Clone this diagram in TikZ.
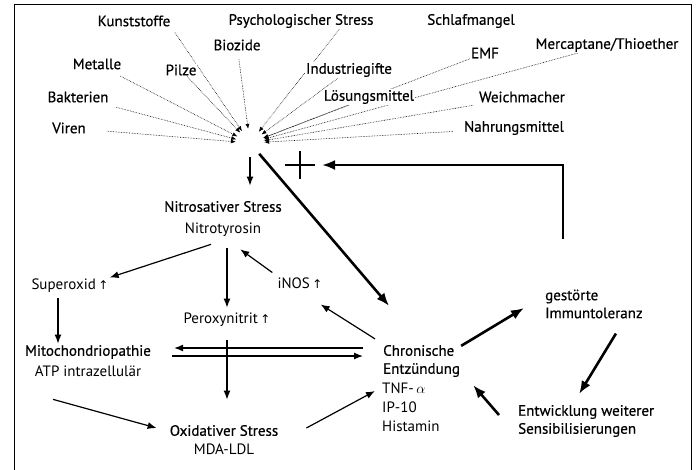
\documentclass[tikz,border=0pt]{standalone}
\usepackage{fontspec}
\setmainfont{PT Sans}
\newfontfamily\semib{PT Sans}[FakeBold=0.5]
\newfontfamily\symb{DejaVu Sans}
\usetikzlibrary{positioning,backgrounds,arrows.meta}

\newcommand{\up}{\,{\symb\fontsize{12}{14}\selectfont ↑}}

\tikzset{
  src/.style={font=\semib\fontsize{15}{17}\selectfont, fill=white, inner sep=1pt},
  head/.style={font=\semib\fontsize{15}{18}\selectfont, inner sep=1pt, text height=11pt, text depth=3.5pt},
  txt/.style={font=\fontsize{15}{19}\selectfont, inner sep=1pt, text height=11pt, text depth=3.5pt},
  arr/.style={-{Latex[length=9pt,width=7pt]}, line width=1.2pt},
  bigarr/.style={-{Latex[length=13pt,width=10pt]}, line width=2.6pt},
  feed/.style={draw, -{Latex[length=5pt,width=4pt]}, densely dotted, line width=0.6pt}
}

\begin{document}
\begin{tikzpicture}[x=1pt, y=-1pt, node distance=5pt]
\useasboundingbox (0,0) rectangle (700,469);
\draw[line width=1pt] (14,475) -- (14,4) -- (691,4) -- (691,475);

% sources
\node[src] (kunst) at (134,21) {Kunststoffe};
\node[src] (psych) at (301,21) {Psychologischer Stress};
\node[src] (schlaf) at (471,21) {Schlafmangel};
\node[src] (biozid) at (237,45) {Biozide};
\node[src] (merc) at (607,45) {Mercaptane/Thioether};
\node[src] (emf) at (485,53) {EMF};
\node[src] (metall) at (97,64) {Metalle};
\node[src] (pilz) at (181,70) {Pilze};
\node[src] (indus) at (349,70) {Industriegifte};
\node[src] (bakt) at (78,97) {Bakterien};
\node[src] (loes) at (369,97) {Lösungsmittel};
\node[src] (weich) at (522,97) {Weichmacher};
\node[src] (viren) at (69,128) {Viren};
\node[src] (nahr) at (514,128) {Nahrungsmittel};

\node[circle, minimum size=28pt, inner sep=0pt] (hub) at (250,143) {};

\begin{scope}[on background layer, every edge/.style={feed}]
  \path (viren) edge[shorten <=20pt] (hub)
        (bakt) edge[shorten <=14pt] (hub)
        (metall) edge[shorten <=12pt] (hub)
        (pilz) edge (hub)
        (kunst.south east) edge[shorten <=6pt] (hub)
        (biozid) edge[shorten <=8pt] (hub)
        (psych.-12) edge (hub)
        (indus) edge (hub)
        (loes) edge (hub)
        (emf) edge (hub)
        (merc) edge (hub)
        (weich) edge[shorten <=10pt] (hub)
        (nahr) edge[shorten <=10pt] (hub);
\end{scope}

% main chain
\node[head] (nitro) at (223,208) {Nitrosativer Stress};
\node[txt, below=of nitro] (nitroty) {Nitrotyrosin};
\node[txt] (superox) at (70,286) {Superoxid\up};
\node[txt] (inos) at (300,285) {iNOS\up};
\node[txt] (perox) at (227,320) {Peroxynitrit\up};
\node[head] (mito) at (88,352) {Mitochondriopathie};
\node[txt, below=4pt of mito] (atp) {ATP intrazellulär};
\node[head] (oxid) at (224,432) {Oxidativer Stress};
\node[txt, below=2pt of oxid] (mda) {MDA-LDL};
\node[head, text height=, text depth=, align=left, anchor=west] (chron) at (382,361) {Chronische\\Entzündung};
\node[txt, text height=, text depth=, align=left, anchor=north west] (tnf) at (381,382) {TNF-\,$\alpha$\\IP-10\\Histamin};
\node[head, text height=, text depth=, align=left, anchor=west] (gest) at (544,304) {gestörte\\Immuntoleranz};
\node[head, text height=, text depth=, align=left, anchor=west] (entw) at (517,421) {Entwicklung weiterer\\Sensibilisierungen};
\coordinate (block) at (300,165);

\draw[arr, shorten >=14pt] (hub.south) -- (hub.south |- nitro.north);
\draw[arr] ([xshift=-12pt,yshift=-6pt]nitroty.south) -- (superox.north east);
\draw[arr, shorten <=10pt, shorten >=4pt] (nitroty.south -| perox) -- (perox.north);
\draw[arr] ([xshift=-4pt,yshift=4pt]inos.north west) -- ([xshift=-22pt,yshift=-11pt]nitroty.south east);
\draw[arr, shorten <=4pt] ([xshift=-12pt]superox.south) -- ([xshift=-30pt]mito.north);
\draw[arr, shorten <=19pt, shorten >=22pt] ([yshift=4pt]mito.east -| chron.west) -- ([yshift=4pt]mito.east);
\draw[arr, shorten <=20pt, shorten >=19pt] ([yshift=-4pt]mito.east) -- ([yshift=-4pt]mito.east -| chron.west);
\draw[arr, shorten <=12pt, shorten >=24pt] (perox.south) -- (perox.south |- oxid.north);
\draw[arr] ([xshift=-35pt,yshift=-18pt]atp.south) -- ([xshift=-12pt,yshift=4pt]oxid.west);
\draw[arr] ([xshift=27pt,yshift=4pt]oxid.east) -- ([xshift=-6pt,yshift=-9pt]tnf.north west);
\draw[arr] ([xshift=-7pt,yshift=5pt]chron.north west) -- ([xshift=-3pt,yshift=-11pt]inos.south east);

\draw[bigarr, shorten >=50pt] (hub) -- (chron.north);
\draw[bigarr] ([yshift=-2pt]chron.north east) -- ([xshift=-20pt,yshift=-4pt]gest.west);
\draw[bigarr] ([xshift=22pt,yshift=-14pt]gest.south) -- ([xshift=-7pt,yshift=10pt]entw.north);
\draw[bigarr] ([xshift=-18pt,yshift=6pt]entw.west) -- ([xshift=12pt,yshift=-7pt]chron.south east);
\draw[bigarr] ([xshift=-31pt,yshift=49pt]gest.north) |- ([xshift=22pt]block);
\draw[line width=2.6pt] ([xshift=-15pt]block) -- ([xshift=15pt]block)
                        ([yshift=14pt]block) -- ([yshift=-14pt]block);
\end{tikzpicture}
\end{document}
